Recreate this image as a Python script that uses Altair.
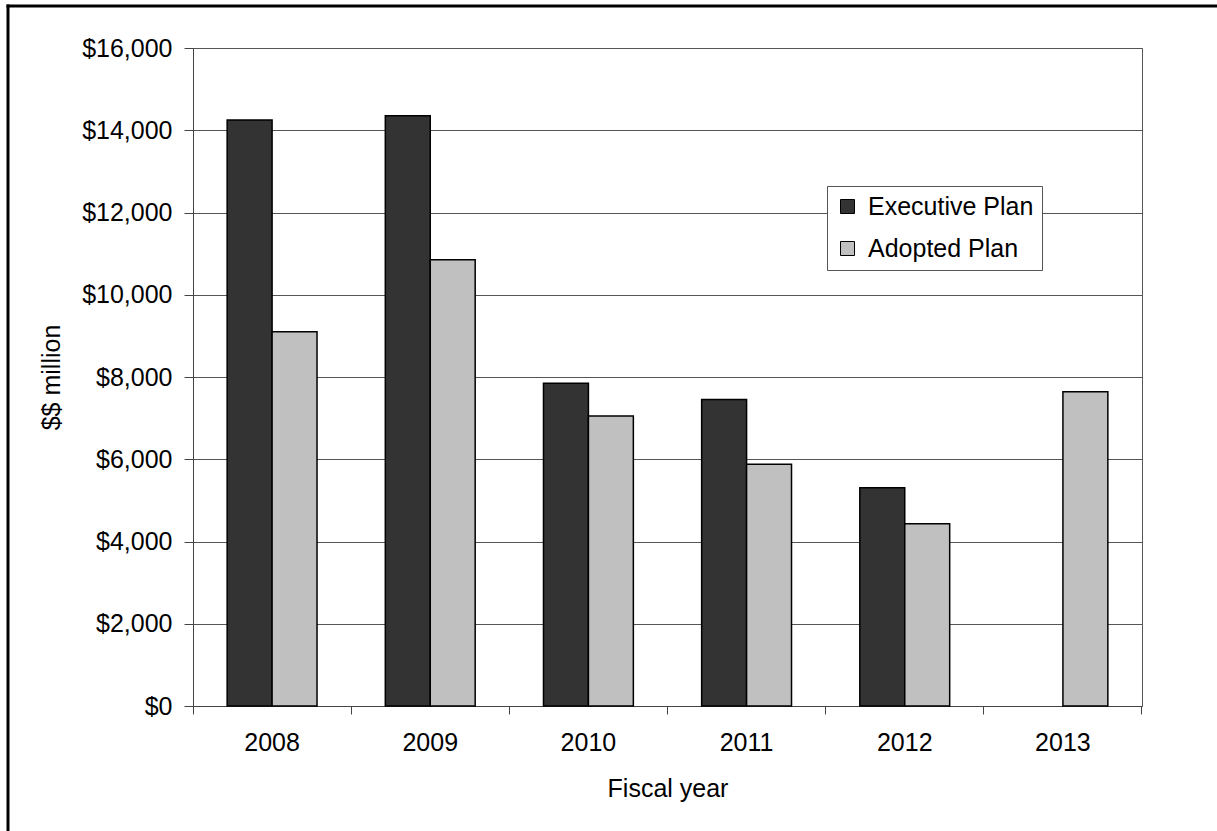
import altair as alt
import pandas as pd

years = ["2008", "2009", "2010", "2011", "2012", "2013"]
executive = [14250, 14350, 7850, 7450, 5310, None]
adopted = [9100, 10850, 7050, 5880, 4430, 7640]
series = ["Executive Plan", "Adopted Plan"]
colors = ["#333333", "#c0c0c0"]
y_ticks = [0, 2000, 4000, 6000, 8000, 10000, 12000, 14000, 16000]

rows = []
for yr, e, a in zip(years, executive, adopted):
    if e is not None:
        rows.append({"year": yr, "plan": series[0], "value": e})
    if a is not None:
        rows.append({"year": yr, "plan": series[1], "value": a})
df = pd.DataFrame(rows)

W, H = 949, 658
FONT = "Liberation Sans"

bars = alt.Chart(df).mark_bar(stroke="black", strokeWidth=1.5).encode(
    x=alt.X(
        "year:N",
        sort=years,
        scale=alt.Scale(paddingInner=0, paddingOuter=0),
        axis=alt.Axis(
            title="Fiscal year",
            labelAngle=0,
            bandPosition=1,
            tickExtra=True,
            tickSize=8,
            labelPadding=16,
            labelFontSize=25,
            titleFontSize=25,
            titleFontWeight="normal",
            titleX=W / 2,
            titleY=82,
            titleBaseline="middle",
            titleAlign="center",
        ),
    ),
    xOffset=alt.XOffset(
        "plan:N",
        sort=series,
        scale=alt.Scale(domain=series, paddingInner=0, paddingOuter=0.76),
    ),
    y=alt.Y(
        "value:Q",
        scale=alt.Scale(domain=[0, 16000], nice=False),
        axis=alt.Axis(
            title="$$ million",
            values=y_ticks,
            format="$,.0f",
            grid=True,
            tickSize=9,
            labelPadding=12,
            labelFontSize=25,
            titleFontSize=25,
            titleFontWeight="normal",
            titleAngle=270,
            titleX=-142,
            titleY=H / 2,
            titleBaseline="middle",
            titleAlign="center",
        ),
    ),
    color=alt.Color(
        "plan:N",
        sort=series,
        scale=alt.Scale(domain=series, range=colors),
        legend=alt.Legend(
            title=None,
            orient="none",
            legendX=634,
            legendY=138,
            direction="vertical",
            fillColor="white",
            strokeColor="#555555",
            padding=8,
            labelFontSize=25,
            labelFont=FONT,
            labelColor="black",
            labelLimit=0,
            symbolType="square",
            symbolSize=196,
            symbolStrokeColor="black",
            symbolStrokeWidth=1,
            rowPadding=16,
            labelOffset=8,
        ),
    ),
)

frame_data = pd.DataFrame({"f": [0]})
frame_left = alt.Chart(frame_data).mark_rect(color="black", strokeWidth=0).encode(
    x=alt.value(-186.5), x2=alt.value(-183.5), y=alt.value(-43.5), y2=alt.value(783)
)
frame_top = alt.Chart(frame_data).mark_rect(color="black", strokeWidth=0).encode(
    x=alt.value(-186.5), x2=alt.value(1024), y=alt.value(-43.5), y2=alt.value(-40.5)
)

chart = alt.layer(bars, frame_left, frame_top).properties(
    width=W,
    height=H,
    autosize=alt.AutoSizeParams(type="none"),
    padding={"left": 193, "top": 48, "right": 75, "bottom": 125},
    background="white",
).configure(
    font=FONT,
).configure_view(
    stroke="#555555", strokeWidth=1
).configure_axis(
    domainColor="#444444",
    tickColor="#444444",
    gridColor="#555555",
    gridWidth=1,
    labelColor="black",
    titleColor="black",
    labelFont=FONT,
    titleFont=FONT,
)

chart.save("out.html", embed_options={"renderer": "svg", "actions": False})
